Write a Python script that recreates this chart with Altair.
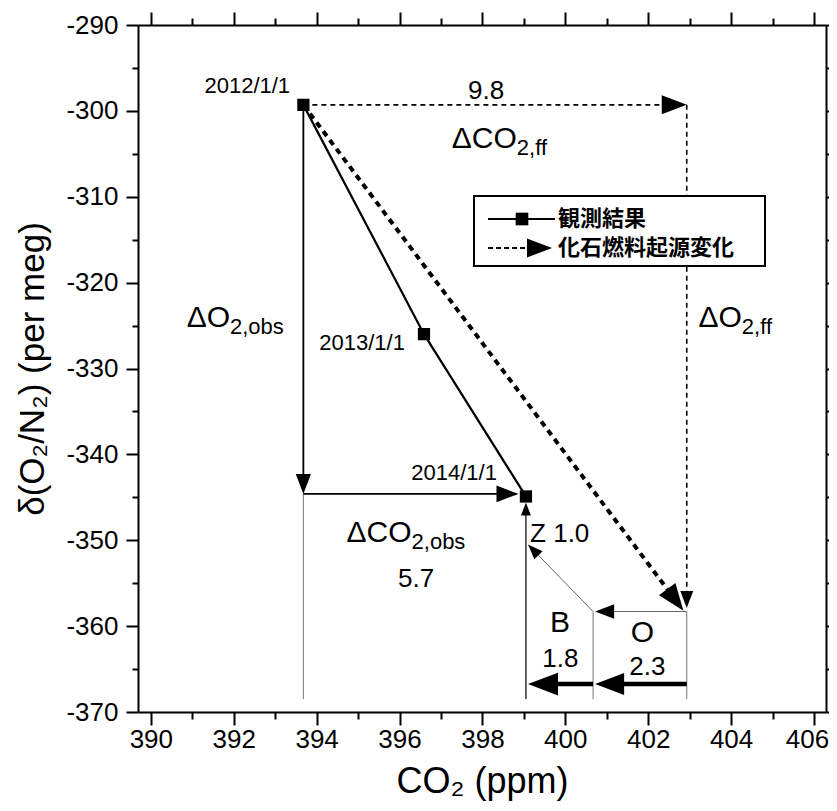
import math
import altair as alt
import pandas as pd

# ---------------- axes ----------------
X_DOMAIN = [389.69, 406.29]
Y_DOMAIN = [-370, -290]
W, H = 688, 687
XPX = W / (X_DOMAIN[1] - X_DOMAIN[0])
YPX = H / (Y_DOMAIN[1] - Y_DOMAIN[0])
x_ticks = list(range(390, 407))
y_ticks = list(range(-370, -289, 5))

# ---------------- data ----------------
obs_date = ["2012/1/1", "2013/1/1", "2014/1/1"]
obs_co2 = [393.68, 396.59, 399.05]
obs_o2 = [-299.3, -326.0, -344.9]

ff_co2 = 402.93        # fossil-fuel end point
ff_o2 = -358.3
b_co2 = 400.67         # after ocean uptake (O)
z_o2 = -350.5          # after land biosphere (B) -> Z
corner_o2 = -344.6     # observed O2 change corner
base_o2 = -368.5       # bottom of guide lines
thick_o2 = -366.75     # thick budget arrows

# arrows: (x_start, y_start, x_tip, y_tip, head_length_px, style)
arrows = [
    (obs_co2[0], obs_o2[0], obs_co2[0], corner_o2, 20, "black"),
    (obs_co2[0], corner_o2, 398.87, corner_o2, 22, "black"),
    (obs_co2[2], base_o2, obs_co2[2], -345.6, 13, "thin"),
    (b_co2, ff_o2, 399.10, z_o2, 15, "gray"),
    (ff_co2, ff_o2, 400.72, ff_o2, 19, "gray"),
    (ff_co2, thick_o2, 400.72, thick_o2, 29, "thick"),
    (b_co2, thick_o2, 399.10, thick_o2, 30, "thick"),
    (obs_co2[0], obs_o2[0], ff_co2, obs_o2[0], 25, "dash"),
    (ff_co2, obs_o2[0], ff_co2, -357.9, 17, "dash"),
    (obs_co2[0], obs_o2[0], 402.85, -358.2, 27, "dot"),
]
guides = [
    (obs_co2[0], corner_o2, obs_co2[0], base_o2),
    (b_co2, ff_o2, b_co2, base_o2),
    (ff_co2, ff_o2, ff_co2, base_o2),
]

# text labels
date_labels = [(393.36, -297.95, obs_date[0]), (396.13, -327.85, obs_date[1]), (398.35, -342.98, obs_date[2])]
delta_main = [(398.83, -304.32, "ΔCO"), (391.91, -325.17, "ΔO"), (404.26, -325.13, "ΔO"), (396.29, -350.17, "ΔCO")]
delta_sub = ["2,ff", "2,obs", "2,ff", "2,obs"]
num_labels = [(398.09, -298.62, "9.8", 26), (396.40, -355.41, "5.7", 26),
              (399.87, -360.65, "B", 30), (401.86, -361.81, "O", 30),
              (399.88, -364.72, "1.8", 26), (401.98, -365.69, "2.3", 26)]
left_labels = [(399.15, -350.17, "Z 1.0")]

legend_items = ["観測結果", "化石燃料起源変化"]

# ---------------- helpers ----------------
HEAD = "M0,0 L-1,-0.38 L-1,0.38 Z"
FONT = "Liberation Sans"
xs = alt.Scale(domain=X_DOMAIN, nice=False, zero=False)
ys = alt.Scale(domain=Y_DOMAIN, nice=False, zero=False)


def screen_angle(x1, y1, x2, y2):
    dx = (x2 - x1) * XPX
    dy = -(y2 - y1) * YPX
    return math.degrees(math.atan2(dy, dx)) % 360


def shaft_end(x1, y1, x2, y2, L):
    dx = (x2 - x1) * XPX
    dy = (y2 - y1) * YPX
    d = math.hypot(dx, dy)
    f = max(0.0, (d - 0.6 * L) / d)
    return x1 + (x2 - x1) * f, y1 + (y2 - y1) * f


seg_rows, head_rows = [], []
for (x1, y1, x2, y2, L, st) in arrows:
    ex, ey = shaft_end(x1, y1, x2, y2, L)
    seg_rows.append(dict(x=x1, y=y1, x2=ex, y2=ey, style=st))
    head_rows.append(dict(x=x2, y=y2, angle=screen_angle(x1, y1, x2, y2), size=4 * L * L))
for (x1, y1, x2, y2) in guides:
    seg_rows.append(dict(x=x1, y=y1, x2=x2, y2=y2, style="guide"))
segs = pd.DataFrame(seg_rows)
heads = pd.DataFrame(head_rows)


def rules(style, **kw):
    return alt.Chart(segs[segs["style"] == style]).mark_rule(**kw).encode(
        x=alt.X("x:Q", scale=xs, axis=None),
        y=alt.Y("y:Q", scale=ys, axis=None),
        x2="x2:Q", y2="y2:Q")


cond_x = {"condition": {"test": "datum.value % 2 === 0", "value": 13}, "value": 7}
cond_y = {"condition": {"test": "datum.value % 10 === 0", "value": 12}, "value": 6}

ax_bottom = alt.Axis(orient="bottom", values=x_ticks, tickSize=cond_x,
                     labelExpr="datum.value % 2 === 0 ? toString(datum.value) : ''",
                     labelOffset={"condition": {"test": "datum.value === 406", "value": -7}, "value": 0},
                     labelOverlap=False, labelFlush=False, labelPadding=1,
                     title="CO₂ (ppm)", titleFontSize=36, titlePadding=12)
ax_left = alt.Axis(orient="left", values=y_ticks, tickSize=cond_y,
                   labelExpr="datum.value % 10 === 0 ? toString(datum.value) : ''",
                   labelOverlap=False, labelFlush=False, labelPadding=8,
                   title="δ(O₂/N₂) (per meg)", titleFontSize=35, titlePadding=15)
ax_top = alt.Axis(orient="top", values=x_ticks, tickSize=cond_x, labels=False, title=None)
ax_right = alt.Axis(orient="right", values=y_ticks, tickSize=cond_y, labels=False, title=None)

obs = pd.DataFrame({"co2": obs_co2, "o2": obs_o2, "date": obs_date})

obs_line = alt.Chart(obs).mark_line(color="black", strokeWidth=2.2).encode(
    x=alt.X("co2:Q", scale=xs, axis=ax_bottom),
    y=alt.Y("o2:Q", scale=ys, axis=ax_left))
obs_pts = alt.Chart(obs).mark_point(shape="square", filled=True, color="black",
                                    opacity=1, size=150).encode(
    x=alt.X("co2:Q", scale=xs, axis=ax_top),
    y=alt.Y("o2:Q", scale=ys, axis=ax_right))

layers = [
    rules("guide", color="#777777", strokeWidth=1),
    rules("gray", color="#666666", strokeWidth=1),
    rules("thin", color="black", strokeWidth=1.2),
    rules("black", color="black", strokeWidth=1.8),
    rules("thick", color="black", strokeWidth=4.5),
    rules("dash", color="black", strokeWidth=1.6, strokeDash=[5, 4]),
    rules("dot", color="black", strokeWidth=4, strokeDash=[6, 5]),
    obs_line,
    alt.Chart(heads).mark_point(shape=HEAD, filled=True, color="black", opacity=1).encode(
        x=alt.X("x:Q", scale=xs, axis=None), y=alt.Y("y:Q", scale=ys, axis=None),
        angle=alt.Angle("angle:Q", scale=None), size=alt.Size("size:Q", scale=None)),
    obs_pts,
]

dates = pd.DataFrame(date_labels, columns=["x", "y", "t"])
layers.append(alt.Chart(dates).mark_text(align="right", baseline="alphabetic", font=FONT,
                                         fontSize=22, color="black").encode(
    x=alt.X("x:Q", scale=xs, axis=None), y=alt.Y("y:Q", scale=ys, axis=None), text="t:N"))

dm = pd.DataFrame(delta_main, columns=["x", "y", "t"])
dm["s"] = delta_sub
layers.append(alt.Chart(dm).mark_text(align="right", baseline="alphabetic", font=FONT,
                                      fontSize=30, color="black").encode(
    x=alt.X("x:Q", scale=xs, axis=None), y=alt.Y("y:Q", scale=ys, axis=None), text="t:N"))
layers.append(alt.Chart(dm).mark_text(align="left", baseline="alphabetic", font=FONT,
                                      fontSize=22, dy=7, color="black").encode(
    x=alt.X("x:Q", scale=xs, axis=None), y=alt.Y("y:Q", scale=ys, axis=None), text="s:N"))

nums = pd.DataFrame(num_labels, columns=["x", "y", "t", "fs"])
layers.append(alt.Chart(nums).mark_text(align="center", baseline="alphabetic", font=FONT,
                                        color="black").encode(
    x=alt.X("x:Q", scale=xs, axis=None), y=alt.Y("y:Q", scale=ys, axis=None), text="t:N",
    size=alt.Size("fs:Q", scale=None)))
lefts = pd.DataFrame(left_labels, columns=["x", "y", "t"])
layers.append(alt.Chart(lefts).mark_text(align="left", baseline="alphabetic", font=FONT,
                                         fontSize=26, color="black").encode(
    x=alt.X("x:Q", scale=xs, axis=None), y=alt.Y("y:Q", scale=ys, axis=None), text="t:N"))

# ---------------- legend (pixel layout inside plot) ----------------
one = pd.DataFrame({"a": [0]})
layers += [
    alt.Chart(one).mark_rect(fill="white", stroke="black", strokeWidth=2).encode(
        x=alt.value(336), x2=alt.value(627), y=alt.value(171), y2=alt.value(241)),
    alt.Chart(one).mark_rule(color="black", strokeWidth=2).encode(
        x=alt.value(350), x2=alt.value(417), y=alt.value(194)),
    alt.Chart(one).mark_point(shape="square", filled=True, color="black", opacity=1, size=160).encode(
        x=alt.value(384), y=alt.value(194)),
    alt.Chart(one).mark_rule(color="black", strokeWidth=2, strokeDash=[5, 3]).encode(
        x=alt.value(350), x2=alt.value(398), y=alt.value(223)),
    alt.Chart(one).mark_point(shape=HEAD, filled=True, color="black", opacity=1, size=4 * 25 * 25).encode(
        x=alt.value(414), y=alt.value(223)),
    alt.Chart(one).mark_text(align="left", baseline="middle", font="Noto Sans CJK JP",
                             fontWeight="bold", fontSize=22, color="black").encode(
        x=alt.value(420), y=alt.value(194), text=alt.value(legend_items[0])),
    alt.Chart(one).mark_text(align="left", baseline="middle", font="Noto Sans CJK JP",
                             fontWeight="bold", fontSize=22, color="black").encode(
        x=alt.value(420), y=alt.value(223), text=alt.value(legend_items[1])),
]

chart = alt.layer(*layers).resolve_axis(x="independent", y="independent").properties(
    width=W, height=H,
    autosize=alt.AutoSizeParams(type="none"),
    padding={"left": 130, "top": 17, "right": 3, "bottom": 91},
).configure_view(stroke=None).configure_axis(
    grid=False, domainColor="black", domainWidth=2, tickColor="black", tickWidth=2,
    labelFont=FONT, labelFontSize=26, labelColor="black",
    titleFont=FONT, titleColor="black", titleFontWeight="normal",
)

chart.save("out.html", embed_options={"renderer": "svg", "actions": False})
